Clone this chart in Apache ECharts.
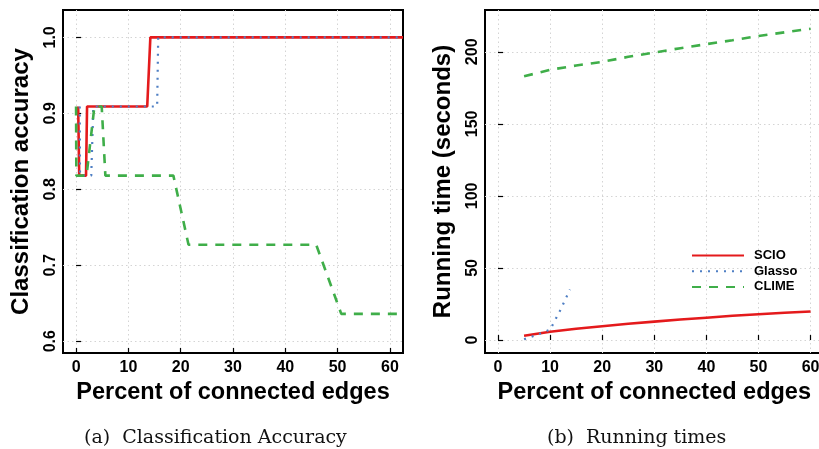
<!DOCTYPE html>
<html>
<head>
<meta charset="utf-8">
<script src="https://cdn.jsdelivr.net/npm/echarts@6/dist/echarts.min.js"></script>
<style>
html,body{margin:0;padding:0;overflow:hidden;background:#fff;}
#c{width:840px;height:449px;}
</style>
</head>
<body>
<div id="c"></div>
<script>
// ---- data ----
var seriesNames = ['SCIO', 'Glasso', 'CLIME'];
// Panel (a): classification accuracy vs percent of connected edges
var accSCIO_x   = [0.4, 0.6, 1.9, 2.1, 13.6, 14.2, 62.5];
var accSCIO_y   = [0.909, 0.818, 0.818, 0.909, 0.909, 1.0, 1.0];
var accGlasso_x = [0.7, 0.75, 2.9, 3.3, 15.5, 15.7, 62.5];
var accGlasso_y = [0.909, 0.818, 0.818, 0.909, 0.909, 1.0, 1.0];
var accCLIME_x  = [0.0, 0.05, 2.0, 3.5, 4.9, 5.6, 18.6, 21.5, 45.9, 50.7, 62.5];
var accCLIME_y  = [0.909, 0.818, 0.818, 0.909, 0.909, 0.818, 0.818, 0.727, 0.727, 0.636, 0.636];
// Panel (b): running time (seconds)
var timeX        = [5, 10, 15, 20, 25, 30, 35, 40, 45, 50, 55, 60];
var timeSCIO     = [3, 5.7, 7.8, 9.6, 11.3, 12.8, 14.2, 15.5, 16.8, 17.9, 18.9, 19.8];
var timeCLIME    = [183, 187.5, 190.5, 193, 196.5, 199.5, 202.5, 205.3, 208, 211, 213.5, 216];
var timeGlasso_x = [5, 7, 10, 12, 13.8];
var timeGlasso_y = [0.5, 3, 7.2, 21, 35];
// tick labels
var xTicks    = [0, 10, 20, 30, 40, 50, 60];
var accTicks  = [0.6, 0.7, 0.8, 0.9, 1.0];
var timeTicks = [0, 50, 100, 150, 200];
var captionA = '(a)  Classification Accuracy';
var captionB = '(b)  Running times';

function zip(xs, ys){ return xs.map(function(x,i){ return [x, ys[i]]; }); }

var colors = { SCIO:'#e41a1c', Glasso:'#4f7fc4', CLIME:'#3fae49' };
var styles = {
  SCIO:   { color: colors.SCIO, width: 2.6, type: 'solid' },
  Glasso: { color: colors.Glasso, width: 2.2, type: [2, 6] },
  CLIME:  { color: colors.CLIME, width: 2.6, type: [9, 8] }
};

var tickFont = { fontFamily:'Liberation Sans', fontWeight:'bold', fontSize:16, color:'#000' };
var nameFont = { fontFamily:'Liberation Sans', fontWeight:'bold', fontSize:23.5, color:'#000' };
var gridLine = { show:true, lineStyle:{ color:'#d4d4d4', type:[1.5,3], width:1 } };

function xAxis(gi){
  return {
    type:'value', gridIndex:gi, min:-2.5, max:62.5,
    name:'Percent of connected edges', nameLocation:'middle', nameGap:23,
    nameTextStyle: nameFont,
    axisLine:{ show:false },
    axisTick:{ show:true, inside:true, length:5, customValues:xTicks, lineStyle:{color:'#000', width:1.2} },
    axisLabel:Object.assign({ customValues:xTicks, margin:7 }, tickFont),
    splitLine: gridLine
  };
}

function line(name, data, xi, yi){
  var s = styles[name];
  return {
    name:name, type:'line', xAxisIndex:xi, yAxisIndex:yi, data:data,
    symbol:'circle', symbolSize:0, showSymbol:false, clip:true, animation:false,
    color:s.color,
    lineStyle:{ color:s.color, width:s.width, type:s.type, cap:'butt' }
  };
}

var chart = echarts.init(document.getElementById('c'), null, {renderer:'canvas'});
chart.setOption({
  backgroundColor:'#fff',
  animation:false,
  title:[
    { text:captionA, left:79, top:424, textStyle:{ fontFamily:'DejaVu Serif', fontWeight:'normal', fontSize:19, color:'#111' } },
    { text:captionB, left:542, top:424, textStyle:{ fontFamily:'DejaVu Serif', fontWeight:'normal', fontSize:19, color:'#111' } }
  ],
  legend:{
    data:seriesNames, orient:'vertical', left:686, top:244,
    itemWidth:52, itemHeight:14, itemGap:2.7,
    itemStyle:{ opacity:0 },
    textStyle:{ fontFamily:'Liberation Sans', fontWeight:'bold', fontSize:13, color:'#000', padding:[0,0,0,5] },
    selectedMode:false
  },
  grid:[
    { left:63, top:10, width:340, height:343, show:true, borderColor:'#000', borderWidth:2, backgroundColor:'transparent' },
    { left:485, top:10, width:338.6, height:343, show:true, borderColor:'#000', borderWidth:2, backgroundColor:'transparent' }
  ],
  xAxis:[ xAxis(0), xAxis(1) ],
  yAxis:[
    { type:'value', gridIndex:0, min:0.5845, max:1.036,
      name:'Classification accuracy', nameLocation:'middle', nameGap:30, nameTextStyle:Object.assign({}, nameFont, {fontSize:24}),
      axisLine:{show:false},
      axisTick:{ show:true, inside:true, length:5, customValues:accTicks, lineStyle:{color:'#000', width:1.2} },
      axisLabel:Object.assign({ customValues:accTicks, rotate:90, margin:4, formatter:function(v){ return v.toFixed(1); } }, tickFont),
      splitLine: gridLine },
    { type:'value', gridIndex:1, min:-9, max:229,
      name:'Running time (seconds)', nameLocation:'middle', nameGap:30, nameTextStyle:Object.assign({}, nameFont, {fontSize:24}),
      axisLine:{show:false},
      axisTick:{ show:true, inside:true, length:5, customValues:timeTicks, lineStyle:{color:'#000', width:1.2} },
      axisLabel:Object.assign({ customValues:timeTicks, rotate:90, margin:4 }, tickFont),
      splitLine: gridLine }
  ],
  series:[
    line('SCIO',   zip(accSCIO_x, accSCIO_y), 0, 0),
    line('Glasso', zip(accGlasso_x, accGlasso_y), 0, 0),
    line('CLIME',  zip(accCLIME_x, accCLIME_y), 0, 0),
    line('SCIO',   zip(timeX, timeSCIO), 1, 1),
    line('Glasso', zip(timeGlasso_x, timeGlasso_y), 1, 1),
    line('CLIME',  zip(timeX, timeCLIME), 1, 1)
  ]
});
</script>
</body>
</html>
